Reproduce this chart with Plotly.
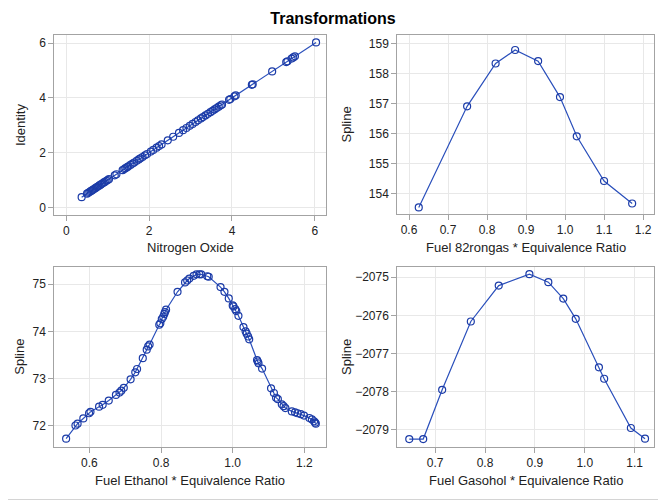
import plotly.graph_objects as go

# Panel 1: Nitrogen Oxide vs Identity transformation
nox = [0.37, 0.50, 0.53, 0.56, 0.59, 0.62, 0.65, 0.68, 0.71, 0.74, 0.77, 0.80,
       0.83, 0.86, 0.90, 0.93, 0.97, 1.00, 1.03, 1.17, 1.21, 1.36, 1.40, 1.43,
       1.47, 1.50, 1.55, 1.60, 1.64, 1.70, 1.75, 1.79, 1.84, 1.90, 1.95, 2.04,
       2.10, 2.18, 2.24, 2.30, 2.45, 2.58, 2.72, 2.82, 2.90, 2.98, 3.05, 3.12,
       3.18, 3.25, 3.30, 3.36, 3.42, 3.48, 3.53, 3.58, 3.63, 3.68, 3.73, 3.76,
       3.93, 3.96, 4.06, 4.09, 4.48, 4.50, 4.97, 5.31, 5.34, 5.44, 5.48, 5.52, 6.03]
identity = list(nox)

# Panel 2: Fuel 82rongas * Equivalence Ratio
eq_82 = [0.625, 0.749, 0.822, 0.872, 0.931, 0.987, 1.030, 1.100, 1.172]
spline_82 = [153.53, 156.90, 158.33, 158.78, 158.41, 157.21, 155.90, 154.41, 153.66]

# Panel 3: Fuel Ethanol * Equivalence Ratio
eq_eth = [0.535, 0.561, 0.567, 0.583, 0.599, 0.603, 0.627, 0.637, 0.654, 0.674,
          0.684, 0.689, 0.696, 0.715, 0.728, 0.733, 0.749, 0.760, 0.764, 0.768,
          0.795, 0.798, 0.802, 0.806, 0.809, 0.811, 0.814, 0.846, 0.867, 0.873,
          0.879, 0.891, 0.899, 0.907, 0.912, 0.929, 0.933, 0.966, 0.977, 0.989,
          1.000, 1.002, 1.007, 1.010, 1.016, 1.030, 1.036, 1.039, 1.043, 1.046,
          1.068, 1.070, 1.072, 1.082, 1.107, 1.115, 1.121, 1.126, 1.137, 1.142,
          1.147, 1.165, 1.174, 1.181, 1.190, 1.199, 1.214, 1.221, 1.227, 1.230, 1.232]
spline_eth = [71.72, 72.00, 72.04, 72.15, 72.26, 72.29, 72.40, 72.44, 72.53, 72.65,
              72.70, 72.74, 72.80, 72.98, 73.13, 73.20, 73.43, 73.61, 73.68, 73.72,
              74.14, 74.17, 74.26, 74.31, 74.37, 74.41, 74.46, 74.84, 75.04, 75.08,
              75.12, 75.18, 75.21, 75.21, 75.21, 75.17, 75.16, 74.94, 74.84, 74.70,
              74.55, 74.53, 74.47, 74.43, 74.33, 74.09, 74.00, 73.95, 73.89, 73.83,
              73.39, 73.36, 73.32, 73.21, 72.79, 72.69, 72.59, 72.56, 72.45, 72.41,
              72.37, 72.30, 72.28, 72.26, 72.24, 72.21, 72.16, 72.13, 72.09, 72.06, 72.04]

# Panel 4: Fuel Gasohol * Equivalence Ratio
eq_gas = [0.648, 0.676, 0.714, 0.7715, 0.8275, 0.889, 0.927, 0.957, 0.982,
          1.0285, 1.039, 1.0926, 1.121]
spline_gas = [-2079.24, -2079.24, -2077.95, -2076.16, -2075.22, -2074.92, -2075.13,
              -2075.56, -2076.09, -2077.36, -2077.66, -2078.95, -2079.23]

x_titles = ["Nitrogen Oxide", "Fuel 82rongas * Equivalence Ratio",
            "Fuel Ethanol * Equivalence Ratio", "Fuel Gasohol * Equivalence Ratio"]
y_titles = ["Identity", "Spline", "Spline", "Spline"]

MARKER = "#1c3ca8"
LINE = "#2a4fbb"
FONT = "Liberation Sans"
TXT = "#222222"

fig = go.Figure()
series = [(nox, identity), (eq_82, spline_82), (eq_eth, spline_eth), (eq_gas, spline_gas)]
for i, (xs, ys) in enumerate(series):
    sfx = "" if i == 0 else str(i + 1)
    fig.add_trace(go.Scatter(
        x=xs, y=ys, mode="lines+markers", xaxis="x" + sfx, yaxis="y" + sfx,
        line=dict(color=LINE, width=1.2),
        marker=dict(symbol="circle-open", size=7, color=MARKER, line=dict(width=1.2)),
        showlegend=False, hoverinfo="x+y"))

W, H = 666, 500
OFF = 8  # page body offset of the figure in the browser window

def px(sx):
    return (sx - OFF) / W
def py(sy):
    return 1 - (sy - OFF) / H
def xd(a, b):
    return [px(a), px(b)]
def yd(top, bot):
    return [py(bot), py(top)]

# plot areas in window pixel coordinates: (left, right, top, bottom)
boxes = [(54.3, 326, 35, 215), (397.3, 654, 35, 214),
         (54.3, 325.5, 266.7, 446.7), (397.3, 654, 267.3, 446.7)]
xranges = [[-0.29, 6.27], [0.570, 1.228], [0.502, 1.259], [0.624, 1.139]]
yranges = [[-0.28, 6.30], [153.31, 159.28], [71.55, 75.373], [-2079.44, -2074.74]]
xdticks = [2, 0.1, 0.2, 0.1]
ydticks = [2, 1, 1, 1]
x0ticks = [0, 0.6, 0.6, 0.7]
y0ticks = [0, 154, 72, -2079]
xfmt = ["d", ".1f", ".1f", ".1f"]
xtitle_y = [247, 247, 480, 480]
ytitle_x = [20, 346, 20, 346]

axis_common = dict(
    showline=True, linecolor="#a3a3a3", linewidth=1, mirror=True,
    showgrid=True, gridcolor="#e8e8e8", gridwidth=1, zeroline=False,
    ticks="outside", ticklen=5, tickcolor="#a3a3a3",
    tickfont=dict(family=FONT, size=12, color=TXT),
)

layout = {}
annotations = []
for i in range(4):
    sfx = "" if i == 0 else str(i + 1)
    l, r, t, b = boxes[i]
    layout["xaxis" + sfx] = dict(
        axis_common, domain=xd(l, r), range=xranges[i],
        anchor="y" + sfx, tick0=x0ticks[i], dtick=xdticks[i], tickformat=xfmt[i])
    layout["yaxis" + sfx] = dict(
        axis_common, domain=yd(t, b), range=yranges[i],
        anchor="x" + sfx, tick0=y0ticks[i], dtick=ydticks[i], tickformat="d")
    annotations.append(dict(
        text=x_titles[i], xref="paper", yref="paper", x=px((l + r) / 2), y=py(xtitle_y[i]),
        xanchor="center", yanchor="middle", showarrow=False,
        font=dict(family=FONT, size=13, color=TXT)))
    annotations.append(dict(
        text=y_titles[i], xref="paper", yref="paper", x=px(ytitle_x[i]), y=py((t + b) / 2),
        xanchor="center", yanchor="middle", textangle=-90, showarrow=False,
        font=dict(family=FONT, size=13, color=TXT)))

fig.update_layout(
    **layout,
    annotations=annotations,
    width=W, height=H,
    margin=dict(l=0, r=0, t=0, b=0),
    paper_bgcolor="white", plot_bgcolor="white",
    title=dict(text="<b>Transformations</b>", x=px(333), xanchor="center",
               y=py(18), yanchor="middle",
               font=dict(family=FONT, size=16, color="#000000")),
    shapes=[dict(type="rect", xref="paper", yref="paper", x0=-0.1, y0=py(499.5),
                 x1=px(665.5), y1=1.1, line=dict(color="#d4d4d4", width=1))],
)

fig.write_html("out.html")
